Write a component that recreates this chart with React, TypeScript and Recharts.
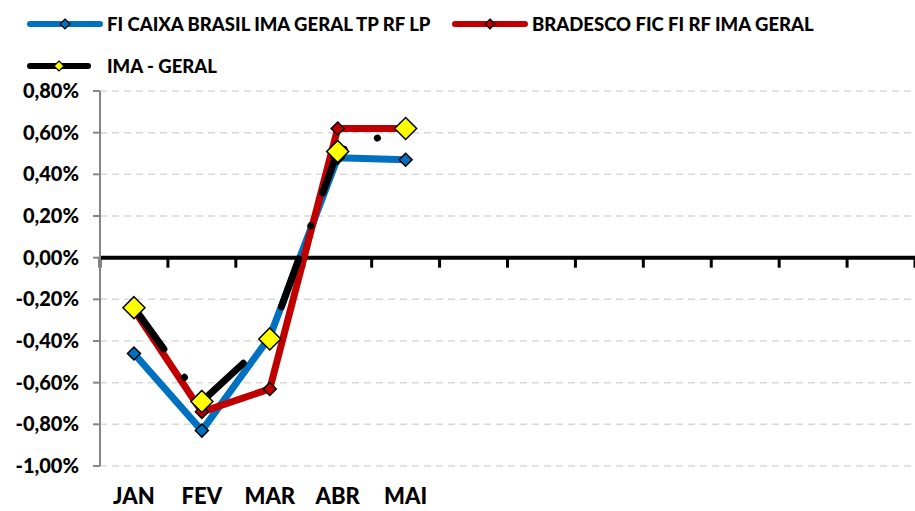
import React from 'react';
import { ComposedChart, Line, XAxis, YAxis, CartesianGrid, ReferenceLine } from 'recharts';

const months = ['JAN', 'FEV', 'MAR', 'ABR', 'MAI', '', '', '', '', '', '', ''];
const caixa = [-0.46, -0.83, -0.38, 0.48, 0.47];
const bradesco = [-0.25, -0.74, -0.63, 0.62, 0.62];
const imaGeral = [-0.24, -0.69, -0.39, 0.51, 0.62];
const yTicks = [-1, -0.8, -0.6, -0.4, -0.2, 0, 0.2, 0.4, 0.6, 0.8];

const seriesNames = {
  caixa: 'FI CAIXA BRASIL IMA GERAL TP RF LP',
  bradesco: 'BRADESCO FIC FI RF IMA GERAL',
  ima: 'IMA - GERAL',
};

const BLUE = '#0070C0';
const RED = '#C00000';
const YELLOW = '#FFFF00';
const FONT = 'Lato, "Liberation Sans", sans-serif';
const WEIGHT = 900;

const data = months.map((m, i) => ({
  idx: i,
  month: m,
  caixa: i < caixa.length ? caixa[i] : null,
  bradesco: i < bradesco.length ? bradesco[i] : null,
  ima: i < imaGeral.length ? imaGeral[i] : null,
}));

const fmtPct = (v: number) => v.toFixed(2).replace('.', ',') + '%';

const diamond = (fill: string, r: number) => (props: any) => {
  const { cx, cy, key } = props;
  if (cx == null || cy == null || props.value == null) return <g key={key} />;
  return (
    <polygon
      key={key}
      points={`${cx},${cy - r} ${cx + r},${cy} ${cx},${cy + r} ${cx - r},${cy}`}
      fill={fill}
      stroke="#000"
      strokeWidth={1.5}
    />
  );
};

// zero line with small boundary ticks between the months
const ZeroAxis = (props: any) => {
  const { x1, y1, x2 } = props;
  const n = months.length;
  const step = (x2 - x1) / n;
  const ticks = [];
  for (let i = 0; i <= n; i++) {
    const x = x1 + i * step;
    ticks.push(<line key={i} x1={x} x2={x} y1={y1} y2={y1 + 10} stroke="#000" strokeWidth={3} />);
  }
  return (
    <g>
      <line x1={x1} x2={x2} y1={y1} y2={y1} stroke="#000" strokeWidth={4} />
      {ticks}
    </g>
  );
};

const MonthTick = (props: any) => {
  const { x, y, payload } = props;
  return (
    <text x={x} y={y + 30} textAnchor="middle" fontFamily={FONT} fontWeight={WEIGHT} fontSize={22} fill="#000">
      {months[payload.value]}
    </text>
  );
};

const LegendIcon = ({ color, marker, width }: { color: string; marker: string; width: number }) => (
  <svg width={width} height={12} style={{ display: 'block' }}>
    <line x1={3} x2={width - 3} y1={6} y2={6} stroke={color} strokeWidth={6} strokeLinecap="round" />
    <polygon
      points={`${width / 2},1 ${width / 2 + 5},6 ${width / 2},11 ${width / 2 - 5},6`}
      fill={marker}
      stroke="#000"
      strokeWidth={1.2}
    />
  </svg>
);

const legendText: React.CSSProperties = {
  fontFamily: FONT,
  fontWeight: WEIGHT,
  fontSize: 18.5,
  color: '#000',
  whiteSpace: 'nowrap',
};

export default function App() {
  return (
    <div style={{ position: 'absolute', left: 0, top: 0, width: 915, height: 511, background: '#fff' }}>
      <div style={{ position: 'absolute', left: 27, top: 13, display: 'flex', alignItems: 'center' }}>
        <LegendIcon color={BLUE} marker={BLUE} width={76} />
        <span style={{ ...legendText, marginLeft: 4 }}>{seriesNames.caixa}</span>
      </div>
      <div style={{ position: 'absolute', left: 452, top: 13, display: 'flex', alignItems: 'center' }}>
        <LegendIcon color={RED} marker={RED} width={76} />
        <span style={{ ...legendText, marginLeft: 4 }}>{seriesNames.bradesco}</span>
      </div>
      <div style={{ position: 'absolute', left: 27, top: 55, display: 'flex', alignItems: 'center' }}>
        <LegendIcon color="#000" marker={YELLOW} width={64} />
        <span style={{ ...legendText, marginLeft: 16 }}>{seriesNames.ima}</span>
      </div>
      <ComposedChart
        width={915}
        height={511}
        data={data}
        margin={{ top: 91, right: 0, bottom: 0, left: 0 }}
        style={{ position: 'absolute', left: 0, top: 0 }}
      >
        <CartesianGrid horizontal vertical={false} stroke="#D9D9D9" strokeWidth={1.5} strokeDasharray="7 5" />
        <XAxis
          dataKey="idx"
          type="category"
          scale="band"
          axisLine={false}
          tickLine={false}
          height={45}
          interval={0}
          tick={<MonthTick />}
        />
        <YAxis
          domain={[-1, 0.8]}
          ticks={yTicks}
          width={100}
          axisLine={{ stroke: '#868686', strokeWidth: 2 }}
          tickLine={{ stroke: '#868686', strokeWidth: 2 }}
          tickSize={7}
          tickMargin={14}
          tickFormatter={fmtPct}
          tick={{ fontFamily: FONT, fontWeight: WEIGHT, fontSize: 20, fill: '#000' }}
        />
        <ReferenceLine y={0} shape={<ZeroAxis />} />
        <Line
          dataKey="caixa"
          stroke={BLUE}
          strokeWidth={7}
          strokeLinejoin="round"
          dot={diamond(BLUE, 6.5)}
          activeDot={false}
          isAnimationActive={false}
        />
        <Line
          dataKey="bradesco"
          stroke={RED}
          strokeWidth={7}
          strokeLinejoin="round"
          dot={diamond(RED, 6.5)}
          activeDot={false}
          isAnimationActive={false}
        />
        <Line
          dataKey="ima"
          stroke="#000"
          strokeWidth={7}
          strokeLinecap="round"
          strokeDasharray="51 35 0.1 35"
          dot={diamond(YELLOW, 11)}
          activeDot={false}
          isAnimationActive={false}
        />
      </ComposedChart>
    </div>
  );
}
